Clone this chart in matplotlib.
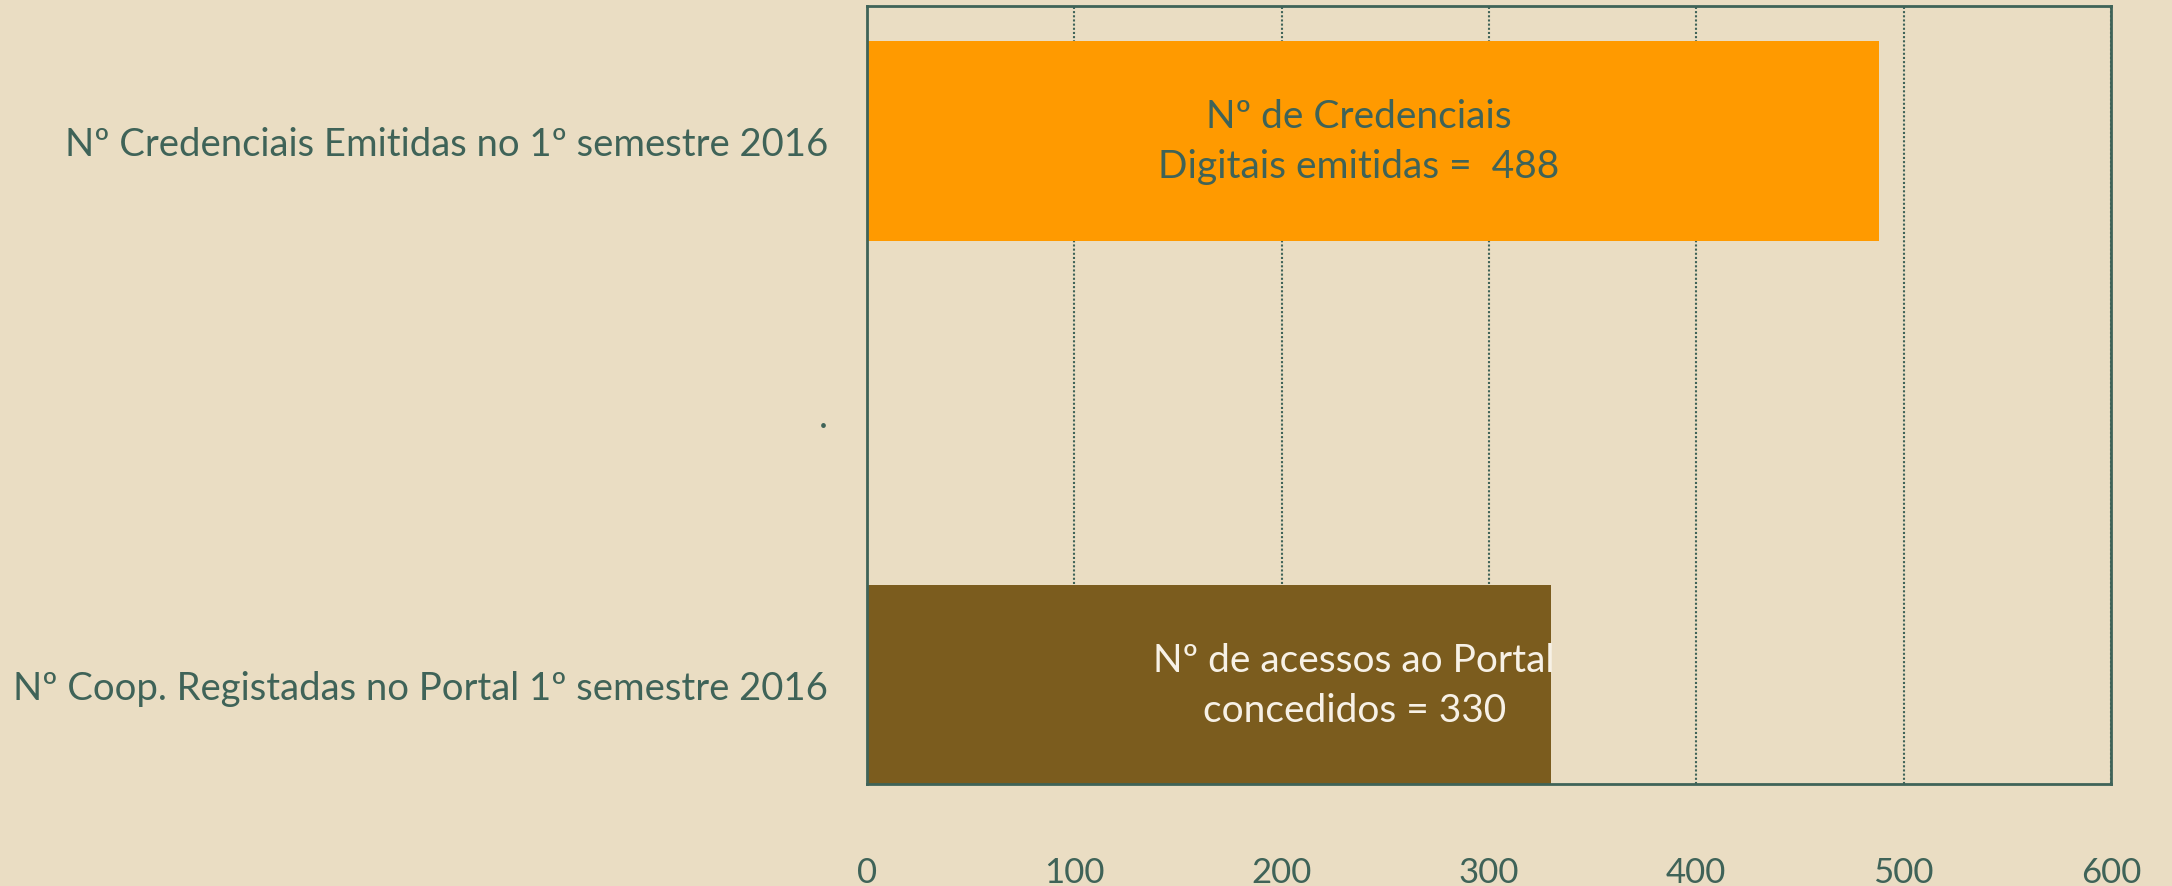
import matplotlib
matplotlib.use("Agg")
import matplotlib.pyplot as plt

categories = ["Nº Coop. Registadas no Portal 1º semestre 2016", ".", "Nº Credenciais Emitidas no 1º semestre 2016"]
values = [330, None, 488]
bar_labels = ["Nº de acessos ao Portal\nconcedidos = 330", None, "Nº de Credenciais\nDigitais emitidas =  488"]
label_x = [235, None, 237]
bar_colors = ["#7B5C1E", None, "#FF9A00"]
label_colors = ["#F7F1E6", None, "#3F6358"]
xticks = [0, 100, 200, 300, 400, 500, 600]

BG = "#EADDC3"
TEAL = "#3F6358"
plt.rcParams['font.family'] = ['Lato', 'DejaVu Sans']

fig = plt.figure(figsize=(21.72, 8.87), dpi=100, facecolor=BG)
ax = fig.add_axes([867/2172, 1-785/887, (2111-867)/2172, (785-7)/887])
ax.set_facecolor(BG)

ypos = list(range(len(categories)))
for y, v, c in zip(ypos, values, bar_colors):
    if v is not None:
        ax.barh(y, v, height=0.738, color=c, zorder=2)
for y, t, lx, tc in zip(ypos, bar_labels, label_x, label_colors):
    if t is not None:
        ax.text(lx, y, t, ha="center", va="center", color=tc, fontsize=28,
                linespacing=1.5, zorder=3)

ax.set_xlim(0, 600)
ax.set_ylim(-0.364, 2.496)
ax.set_xticks(xticks)
ax.set_xticklabels([str(t) for t in xticks])
ax.set_yticks(ypos)
ax.set_yticklabels(categories)
ax.tick_params(axis="both", length=0, colors=TEAL, labelsize=27.5)
ax.tick_params(axis="x", pad=52, labelsize=25)
ax.tick_params(axis="y", pad=28)
ax.grid(axis="x", linestyle=(0, (1, 1)), color=TEAL, linewidth=1.5, zorder=1)
ax.grid(axis="y", visible=False)
for s in ax.spines.values():
    s.set_color(TEAL)
    s.set_linewidth(2)

fig.savefig("out.png", dpi=100, facecolor=BG)
